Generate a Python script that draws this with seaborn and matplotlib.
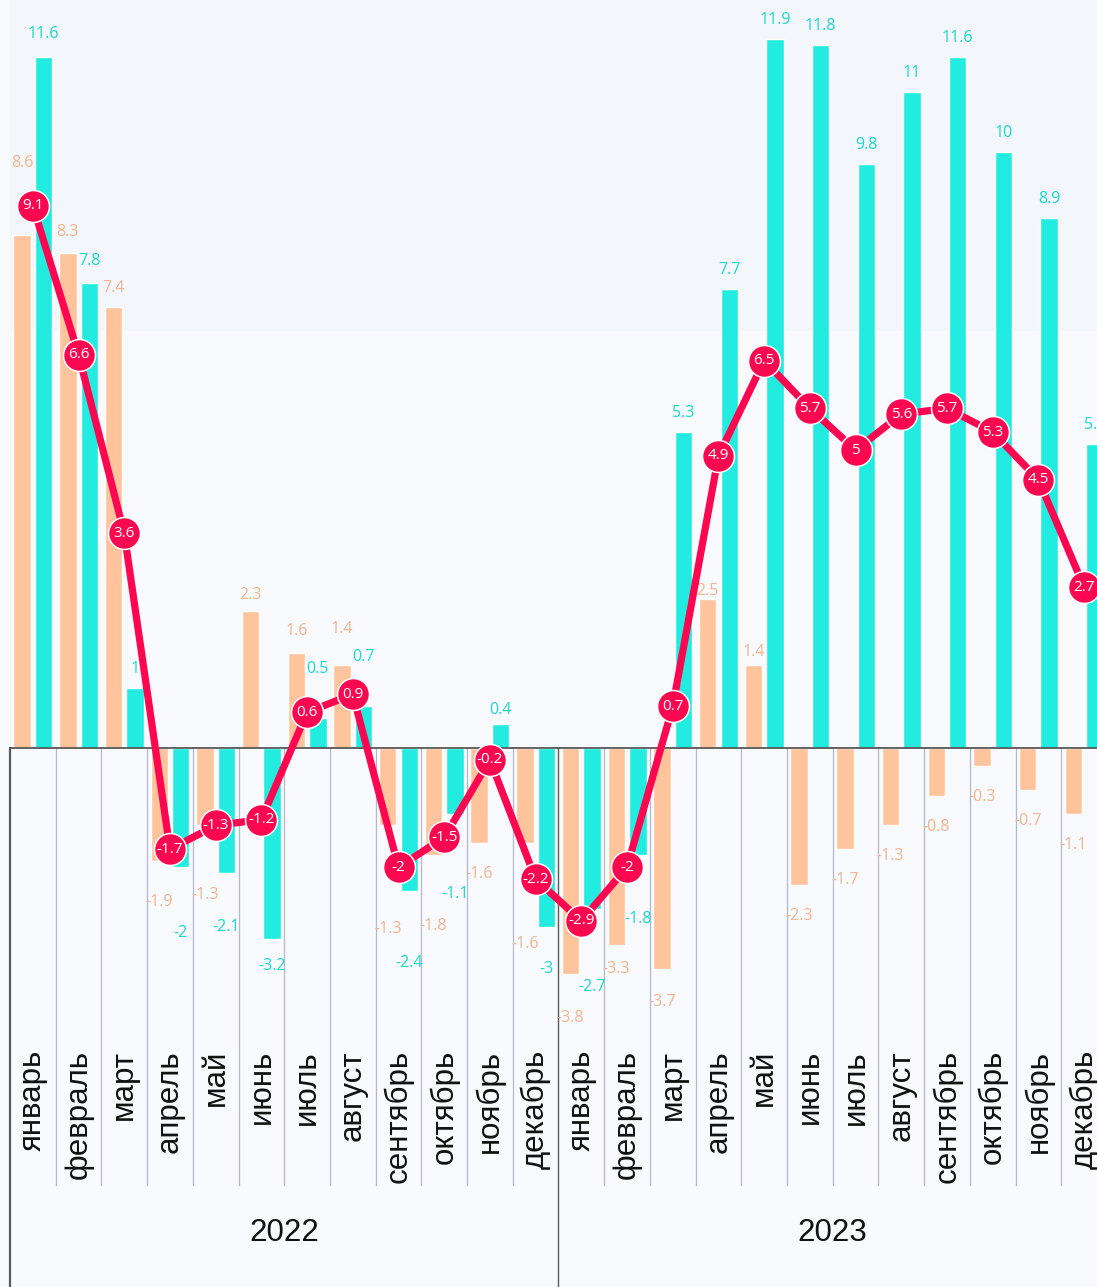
import numpy as np
import pandas as pd
import matplotlib
matplotlib.use("Agg")
import matplotlib.pyplot as plt
import seaborn as sns

# ---------------- data ----------------
years = ["2022", "2023"]
months = ["январь", "февраль", "март", "апрель", "май", "июнь",
          "июль", "август", "сентябрь", "октябрь", "ноябрь", "декабрь"]

orange_2022 = [8.6, 8.3, 7.4, -1.9, -1.3, 2.3, 1.6, 1.4, -1.3, -1.8, -1.6, -1.6]
orange_2023 = [-3.8, -3.3, -3.7, 2.5, 1.4, -2.3, -1.7, -1.3, -0.8, -0.3, -0.7, -1.1]
cyan_2022 = [11.6, 7.8, 1, -2, -2.1, -3.2, 0.5, 0.7, -2.4, -1.1, 0.4, -3]
cyan_2023 = [-2.7, -1.8, 5.3, 7.7, 11.9, 11.8, 9.8, 11, 11.6, 10, 8.9, 5.1]
line_2022 = [9.1, 6.6, 3.6, -1.7, -1.3, -1.2, 0.6, 0.9, -2, -1.5, -0.2, -2.2]
line_2023 = [-2.9, -2, 0.7, 4.9, 6.5, 5.7, 5, 5.6, 5.7, 5.3, 4.5, 2.7]

band_from = 7  # shaded band above this value

# label displacement (pixels, away from bar end) to avoid the line markers
shift_orange = [53, 2, 0, 10, 39, -3, 3, 17, 73, 40, 0, 70,
                13, -7, 2, -11, -6, 0, 0, 0, 0, 0, 0, 0]
shift_cyan = [4, 3, 0, 35, 23, -4, 30, 30, 41, 49, -5, 11,
              47, 33, 0, 0, 0, 0, 0, 0, 0, 0, 0, 0]

# ---------------- styles ----------------
ORANGE = "#FFC49C"
CYAN = "#22EBDF"
RED = "#FF0650"
ORANGE_TXT = "#F0B591"
CYAN_TXT = "#1CD8CC"
BG_LOW = "#F8FAFD"
BG_HIGH = "#F3F7FB"

W, H, DPI = 1097, 1287, 100
ZERO_PX = 748.0
PPU = 59.6  # pixels per unit
LEFT_PX, RIGHT_PX = 10, 1107


def px2val(y_px):
    return (ZERO_PX - y_px) / PPU


def fmt(v):
    return f"{v:g}"


keys = [f"{y}-{i:02d}" for y in years for i in range(1, 13)]
month_labels = months * len(years)
orange_vals = orange_2022 + orange_2023
cyan_vals = cyan_2022 + cyan_2023
line_vals = line_2022 + line_2023

df = pd.DataFrame({
    "key": keys * 2,
    "series": ["a"] * len(keys) + ["b"] * len(keys),
    "value": orange_vals + cyan_vals,
})

sns.set_theme(style="white")
plt.rcParams["font.family"] = ["Liberation Sans", "DejaVu Sans"]

fig = plt.figure(figsize=(W / DPI, H / DPI), dpi=DPI)
fig.patch.set_facecolor(BG_LOW)
ax = fig.add_axes([LEFT_PX / W, 0, (RIGHT_PX - LEFT_PX) / W, 1])
ax.set_facecolor(BG_LOW)

ymax = px2val(0)
ymin = px2val(H)

ax.axhspan(band_from, ymax, color=BG_HIGH, zorder=0, lw=0)

sns.barplot(data=df, x="key", y="value", hue="series", order=keys,
            hue_order=["a", "b"], palette=[ORANGE, CYAN], saturation=1,
            width=0.94, gap=0.19, dodge=True, legend=False, ax=ax, zorder=2)

# bar value labels
label_font = ["Open Sans", "DejaVu Sans"]
for cont, vals, shifts, tc in [(ax.containers[0], orange_vals, shift_orange, ORANGE_TXT),
                               (ax.containers[1], cyan_vals, shift_cyan, CYAN_TXT)]:
    for rect, v, s in zip(cont, vals, shifts):
        xc = rect.get_x() + rect.get_width() / 2
        if v >= 0:
            off_px = 19 + s
        else:
            off_px = -(31 + s)
        ax.annotate(fmt(v), (xc, v), xytext=(0, off_px * 72 / DPI),
                    textcoords="offset points", ha="center", va="center",
                    color=tc, fontsize=11.5, family=label_font, zorder=3)

# zero line
ax.axhline(0, color="#4a4a4a", lw=1.2, zorder=4)

# red line with markers
xs = np.arange(len(keys))
sns.lineplot(x=xs, y=line_vals, color=RED, linewidth=5.2, marker="o",
             markersize=23, markeredgecolor="white", markeredgewidth=1.1,
             ax=ax, zorder=6, legend=False)
for x, v in zip(xs, line_vals):
    ax.text(x, v, fmt(v), ha="center", va="center", color="white",
            fontsize=11, family=label_font, zorder=7)

# category separators
sep_bottom = px2val(1185)
for i in range(1, len(keys)):
    if i % 12 == 0:
        ax.plot([i - 0.5, i - 0.5], [0, ymin], color="#5a5a5a", lw=1.0, zorder=1)
    else:
        ax.plot([i - 0.5, i - 0.5], [0, sep_bottom], color="#B3B8CB", lw=0.9, zorder=1)
ax.plot([-0.5, -0.5], [0, ymin], color="#5a5a5a", lw=1.6, zorder=1, clip_on=False)

# month labels
for i, m in enumerate(month_labels):
    ax.text(i, px2val(1050), m, rotation=90, ha="center", va="top",
            fontsize=22.5, color="#111111", zorder=5)

# year labels
for j, y in enumerate(years):
    ax.text(j * 12 + 5.5, px2val(1233), y, ha="center", va="center",
            fontsize=22.5, color="#111111", zorder=5)

ax.set_xlim(-0.5, len(keys) - 0.5)
ax.set_ylim(ymin, ymax)
ax.set_xlabel("")
ax.set_ylabel("")
ax.set_xticks([])
ax.set_yticks([])
for sp in ax.spines.values():
    sp.set_visible(False)

fig.savefig("out.png", dpi=DPI, facecolor=fig.get_facecolor())
